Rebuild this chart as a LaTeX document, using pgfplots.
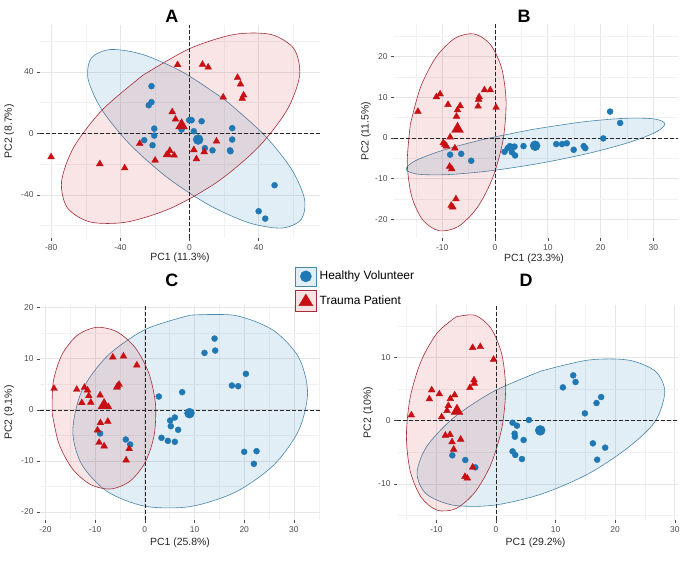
\documentclass[border=0pt]{standalone}
\usepackage{pgfplots}
\pgfplotsset{compat=1.18}
\usepackage{fontspec}
\setmainfont{Liberation Sans}
\definecolor{hvblue}{RGB}{31,120,180}
\definecolor{tpred}{RGB}{200,16,20}
\definecolor{hvedge}{RGB}{70,135,170}
\definecolor{tpedge}{RGB}{165,45,55}
\definecolor{gridmaj}{RGB}{230,230,230}
\definecolor{gridmin}{RGB}{242,242,242}
\definecolor{ticklab}{RGB}{77,77,77}
\pgfplotsset{
  pcastyle/.style={
    scale only axis, anchor=south west,
    axis line style={draw=none},
    grid=both,
    major grid style={draw=gridmaj, line width=0.7bp},
    minor grid style={draw=gridmin, line width=0.45bp},
    tick pos=left, tick align=outside,
    major tick length=3bp, minor tick length=0pt,
    tick style={draw=ticklab, line width=0.5bp},
    ticklabel style={font=\fontsize{8.5}{10}\selectfont, text=ticklab},
    /pgf/number format/assume math mode=true,
    every axis title/.style={anchor=center, font=\fontsize{18}{20}\selectfont\bfseries},
    label style={font=\fontsize{10.5}{12}\selectfont, text=black!85},
  },
  ellblue/.style={fill=hvblue, fill opacity=0.13, draw=hvedge, line width=0.6bp, smooth, forget plot},
  ellred/.style={fill=tpred, fill opacity=0.11, draw=tpedge, line width=0.6bp, smooth, forget plot},
  zeroline/.style={black!85, line width=0.6bp, dash pattern=on 3.5bp off 2.5bp, forget plot},
  ptblue/.style={only marks, mark=*, mark size=3bp, color=hvblue, forget plot},
  ptred/.style={only marks, mark=triangle*, mark size=3.9bp, color=tpred, forget plot},
  cenblue/.style={only marks, mark=*, mark size=5bp, color=hvblue, forget plot},
  cenred/.style={only marks, mark=triangle*, mark size=6.8bp, color=tpred, forget plot},
}
\begin{document}
\begin{tikzpicture}
\useasboundingbox (0,0) rectangle (696bp,568bp);
% ---------------- A ----------------
\begin{axis}[pcastyle, at={(40bp,330bp)}, width=280bp, height=213.5bp,
  xmin=-86.5, xmax=75.5, ymin=-68, ymax=70.8,
  xtick={-80,-40,0,40}, minor xtick={-60,-20,20,60},
  ytick={-40,0,40}, minor ytick={-60,-20,20,60},
  title={A}, title style={at={(axis description cs:0.471,1.04)}},
  xlabel={PC1 (11.3\%)}, ylabel={PC2 (8.7\%)},
  xlabel style={at={(axis description cs:0.5,-0.094)}, anchor=center},
  ylabel style={at={(axis description cs:-0.11,0.5)}, anchor=center}]
\addplot[ellblue] coordinates {(20.97,21.41) (-3.56,39.61) (-26.94,51.24) (-45.64,54.54) (-56.79,49.01) (-58.70,35.48) (-51.08,16.02) (-35.10,-6.41) (-13.17,-28.41) (11.36,-46.61) (34.74,-58.24) (53.44,-61.54) (64.59,-56.01) (66.50,-42.48) (58.88,-23.02) (42.90,-0.59) (20.97,21.41)};
\addplot[ellred] coordinates {(-26.73,37.99) (-50.19,15.60) (-66.79,-8.64) (-74.01,-31.07) (-70.74,-48.25) (-57.49,-57.57) (-36.27,-57.62) (-10.31,-48.38) (16.43,-31.27) (39.89,-8.88) (56.49,15.36) (63.71,37.79) (60.44,54.97) (47.19,64.29) (25.97,64.34) (0.01,55.10) (-26.73,37.99)};
\addplot[zeroline] coordinates {(0,-68) (0,70.8)};
\addplot[zeroline] coordinates {(-86.5,0) (75.5,0)};
\addplot[ptblue] coordinates {(-22,30.7) (-23.6,18.3) (-22,20.3) (-20.4,3.1) (-20.4,-1.4) (-21.4,-7.7) (-26.2,-4.4) (-4.6,2.5) (-0.2,8.6) (1.2,8.6) (7,7.9) (2.5,1.4) (8.9,-9.6) (13.3,-11) (23.7,-11.6) (23.4,-11) (24.7,3.4) (24.7,-4) (49.2,-33.7) (40,-50.6) (43.8,-55.4)};
\addplot[ptred] coordinates {(-80.1,-15.3) (-51.9,-19.8) (-37.5,-22.5) (-28.8,-6.6) (-19.9,-17.5) (-6.9,44.6) (7.5,44.8) (10.8,43) (27.8,36.3) (29.5,32) (19.5,23.5) (30.5,22.7) (31.3,24.8) (-10,14) (-8.1,9.2) (-11.4,-11.2) (-12.4,-13.8) (-13.3,-14) (-8.9,-14.2) (2.5,-10.7) (4,-16.6) (8.5,-12) (15.6,-5.1)};
\addplot[cenblue] coordinates {(5,-4)};
\addplot[cenred] coordinates {(-4.6,5.1)};
\end{axis}
% ---------------- B ----------------
\begin{axis}[pcastyle, at={(394bp,330bp)}, width=284bp, height=213.5bp,
  xmin=-19.13, xmax=34.66, ymin=-24.6, ymax=27.92,
  xtick={-10,0,10,20,30}, minor xtick={-15,-5,5,15,25},
  ytick={-20,-10,0,10,20}, minor ytick={-15,-5,5,15,25},
  title={B}, title style={at={(axis description cs:0.458,1.04)}},
  xlabel={PC1 (23.3\%)}, ylabel={PC2 (11.5\%)},
  xlabel style={at={(axis description cs:0.493,-0.097)}, anchor=center},
  ylabel style={at={(axis description cs:-0.0986,0.5)}, anchor=center}]
\addplot[ellblue] coordinates {(7.10,2.11) (-2.23,-0.36) (-10.05,-3.09) (-15.19,-5.66) (-16.83,-7.70) (-14.75,-8.88) (-9.25,-9.02) (-1.18,-8.12) (8.24,-6.29) (17.57,-3.82) (25.39,-1.09) (30.53,1.48) (32.17,3.52) (30.09,4.70) (24.59,4.84) (16.52,3.94) (7.10,2.11)};
\addplot[ellred] coordinates {(-16.03,3.40) (-16.62,-6.03) (-15.79,-14.32) (-13.65,-20.22) (-10.55,-22.83) (-6.94,-21.76) (-3.38,-17.16) (-0.42,-9.73) (1.51,-0.62) (2.10,8.81) (1.27,17.10) (-0.87,23.00) (-3.97,25.61) (-7.58,24.54) (-11.14,19.94) (-14.10,12.51) (-16.03,3.40)};
\addplot[zeroline] coordinates {(0,-24.6) (0,27.92)};
\addplot[zeroline] coordinates {(-19.13,0) (34.66,0)};
\addplot[ptblue] coordinates {(-8.5,-4.1) (-6.4,-3.9) (-4.5,-5.6) (1.8,-3.4) (2.4,-2.5) (2.8,-2.0) (3.4,-2.3) (3.7,-2.1) (3.2,-3.5) (3.8,-4.3) (5.4,-2.0) (11.6,-1.5) (12.7,-1.5) (13.6,-1.3) (14.9,-2.9) (16.8,-2.0) (17.1,-2.5) (20.5,-0.1) (21.8,6.5) (23.7,3.7)};
\addplot[ptred] coordinates {(-14.6,6.5) (-11.1,10.1) (-10.4,10.8) (-8.9,8.2) (-7.1,6.9) (-6.6,7.9) (-7.3,5.3) (-8.5,0.2) (-9.8,-1.2) (-9.5,-1.6) (-9.2,-2.0) (-7.6,-2.5) (-8.6,-7.0) (-8.2,-7.6) (-7.4,-15) (-8.3,-16.6) (-8.0,-17) (-3.1,9.5) (-3.0,10.1) (-3.2,7.8) (-2.0,11.8) (-0.9,11.8) (0.2,7.5)};
\addplot[cenblue] coordinates {(7.6,-1.9)};
\addplot[cenred] coordinates {(-7.1,2.2)};
\end{axis}
% ---------------- C ----------------
\begin{axis}[pcastyle, at={(40bp,48bp)}, width=280bp, height=215bp,
  xmin=-21.09, xmax=35.25, ymin=-21.57, ymax=20.53,
  xtick={-20,-10,0,10,20,30}, minor xtick={-15,-5,5,15,25,35},
  ytick={-20,-10,0,10,20}, minor ytick={-15,-5,5,15},
  title={C}, title style={at={(axis description cs:0.471,1.116)}},
  xlabel={PC1 (25.8\%)}, ylabel={PC2 (9.1\%)},
  xlabel style={at={(axis description cs:0.5,-0.105)}, anchor=center},
  ylabel style={at={(axis description cs:-0.11,0.5)}, anchor=center}]
\addplot[ellblue] coordinates {(9.13,18.54) (0.09,15.74) (-7.57,10.51) (-12.69,3.66) (-14.49,-4.19) (-12.69,-10.69) (-7.57,-15.99) (0.09,-18.88) (9.13,-18.94) (18.17,-16.14) (25.83,-10.91) (30.95,-4.06) (32.75,3.39) (30.95,10.29) (25.83,15.59) (18.17,18.48) (9.13,18.54)};
\addplot[ellred] coordinates {(-18.66,-0.56) (-17.32,-6.54) (-14.61,-11.49) (-10.92,-14.63) (-6.83,-15.49) (-2.96,-13.95) (0.10,-10.23) (1.89,-4.91) (2.14,1.22) (0.80,7.20) (-1.91,12.15) (-5.60,15.29) (-9.69,16.15) (-13.56,14.61) (-16.62,10.89) (-18.41,5.57) (-18.66,-0.56)};
\addplot[zeroline] coordinates {(0,-21.57) (0,20.53)};
\addplot[zeroline] coordinates {(-21.09,0) (35.25,0)};
\addplot[ptblue] coordinates {(-8.99,-4.63) (-3.83,-5.8) (-2.95,-6.78) (2.82,2.61) (7.52,3.46) (6.04,-1.5) (5.10,-2.09) (5.23,-3.2) (6.71,-3.91) (3.36,-5.48) (4.63,-6.07) (6.04,-6.26) (12.01,11.15) (14.03,13.96) (14.16,11.61) (17.52,4.76) (18.79,4.63) (20.34,7.05) (20.0,-8.22) (22.48,-8.09) (21.95,-10.57)};
\addplot[ptred] coordinates {(-18.26,4.17) (-13.7,3.98) (-12.15,4.37) (-11.54,3.85) (-11.28,2.74) (-12.68,1.37) (-10.87,1.44) (-8.99,2.87) (-6.44,10.3) (-4.30,10.5) (-1.61,8.74) (-5.50,4.63) (-5.17,4.96) (-5.64,4.37) (-8.66,0.59) (-7.32,0.59) (-8.93,-2.54) (-7.45,-2.28) (-9.53,-3.98) (-9.2,-6.4) (-8.19,-7.1) (-3.15,-7.63) (-3.76,-9.85)};
\addplot[cenblue] coordinates {(8.99,-0.65)};
\addplot[cenred] coordinates {(-8.19,0.91)};
\end{axis}
% ---------------- D ----------------
\begin{axis}[pcastyle, at={(397bp,48bp)}, width=281bp, height=215bp,
  xmin=-16.6, xmax=30.54, ymin=-15.69, ymax=18.28,
  xtick={-10,0,10,20,30}, minor xtick={-15,-5,5,15,25},
  ytick={-10,0,10}, minor ytick={-15,-5,5,15},
  title={D}, title style={at={(axis description cs:0.459,1.116)}},
  xlabel={PC1 (29.2\%)}, ylabel={PC2 (10\%)},
  xlabel style={at={(axis description cs:0.493,-0.105)}, anchor=center},
  ylabel style={at={(axis description cs:-0.103,0.5)}, anchor=center},
  legend cell align=left,
  legend style={at={(axis description cs:-0.363,1.179)}, anchor=north west,
    draw=none, fill=none, inner sep=0pt, outer sep=0pt,
    font=\fontsize{12}{14}\selectfont, row sep=3.5bp, column sep=2bp,
    nodes={inner sep=1bp}}]
\addplot[ellblue] coordinates {(7.54,7.84) (-0.41,4.62) (-7.15,0.42) (-11.66,-4.14) (-13.24,-8.36) (-11.66,-11.59) (-7.15,-13.35) (-0.41,-13.36) (7.54,-11.62) (15.49,-8.40) (22.23,-4.20) (26.74,-0.06) (28.32,4.58) (26.74,7.81) (22.23,9.57) (15.49,9.58) (7.54,7.84)};
\addplot[ellred] coordinates {(-6.70,16.40) (-9.88,13.84) (-12.58,9.37) (-14.39,3.65) (-15.02,-2.42) (-14.39,-7.93) (-12.58,-12.05) (-9.88,-14.14) (-6.70,-13.88) (-3.52,-11.29) (-0.82,-6.85) (0.99,-1.13) (1.62,4.94) (0.99,10.45) (-0.82,14.57) (-3.52,16.66) (-6.70,16.40)};
\addplot[zeroline] coordinates {(0,-15.69) (0,18.28)};
\addplot[zeroline] coordinates {(-16.6,0) (30.54,0)};
\addplot[ptblue] coordinates {(-7.32,-5.47) (-5.14,-6.21) (-3.46,-7.37) (2.79,-0.32) (3.52,-0.79) (3.13,-2.05) (3.18,-2.53) (4.64,-3.05) (2.79,-4.84) (3.24,-5.42) (4.36,-6.05) (5.53,0.11) (11.23,5.26) (12.96,7.16) (13.35,6.11) (14.92,1.16) (16.87,2.79) (17.65,3.74) (16.26,-3.58) (18.32,-4.26) (16.98,-6.16)};
\addplot[ptred] coordinates {(-14.19,0.89) (-11.17,3.42) (-10.78,4.84) (-9.50,4.21) (-9.11,0.58) (-8.21,1.58) (-7.99,2.37) (-7.65,3.47) (-6.93,4.05) (-8.49,-2.32) (-7.71,-2.21) (-7.37,-3.37) (-7.09,-4.53) (-5.92,-2.95) (-5.2,-8.84) (-4.8,-9.1) (-3.91,-7.37) (-4.36,5.21) (-3.91,11.53) (-2.63,11.68) (-3.69,6.42) (-3.63,5.89) (-0.39,9.68)};
\addplot[cenblue] coordinates {(7.43,-1.53)};
\addplot[cenred] coordinates {(-6.54,1.53)};
\addlegendimage{legend image code/.code={
  \draw[draw=hvedge, fill=hvblue!13, line width=0.7bp] (0bp,-9.5bp) rectangle (21bp,9.5bp);
  \fill[hvblue] (10.5bp,0bp) circle (5.6bp);}}
\addlegendentry{Healthy Volunteer}
\addlegendimage{legend image code/.code={
  \draw[draw=tpedge, fill=tpred!12, line width=0.7bp] (0bp,-10.5bp) rectangle (21bp,10.5bp);
  \fill[tpred] (3.5bp,-5bp) -- (17.5bp,-5bp) -- (10.5bp,6.5bp) -- cycle;}}
\addlegendentry{Trauma Patient}
\end{axis}
\end{tikzpicture}
\end{document}
